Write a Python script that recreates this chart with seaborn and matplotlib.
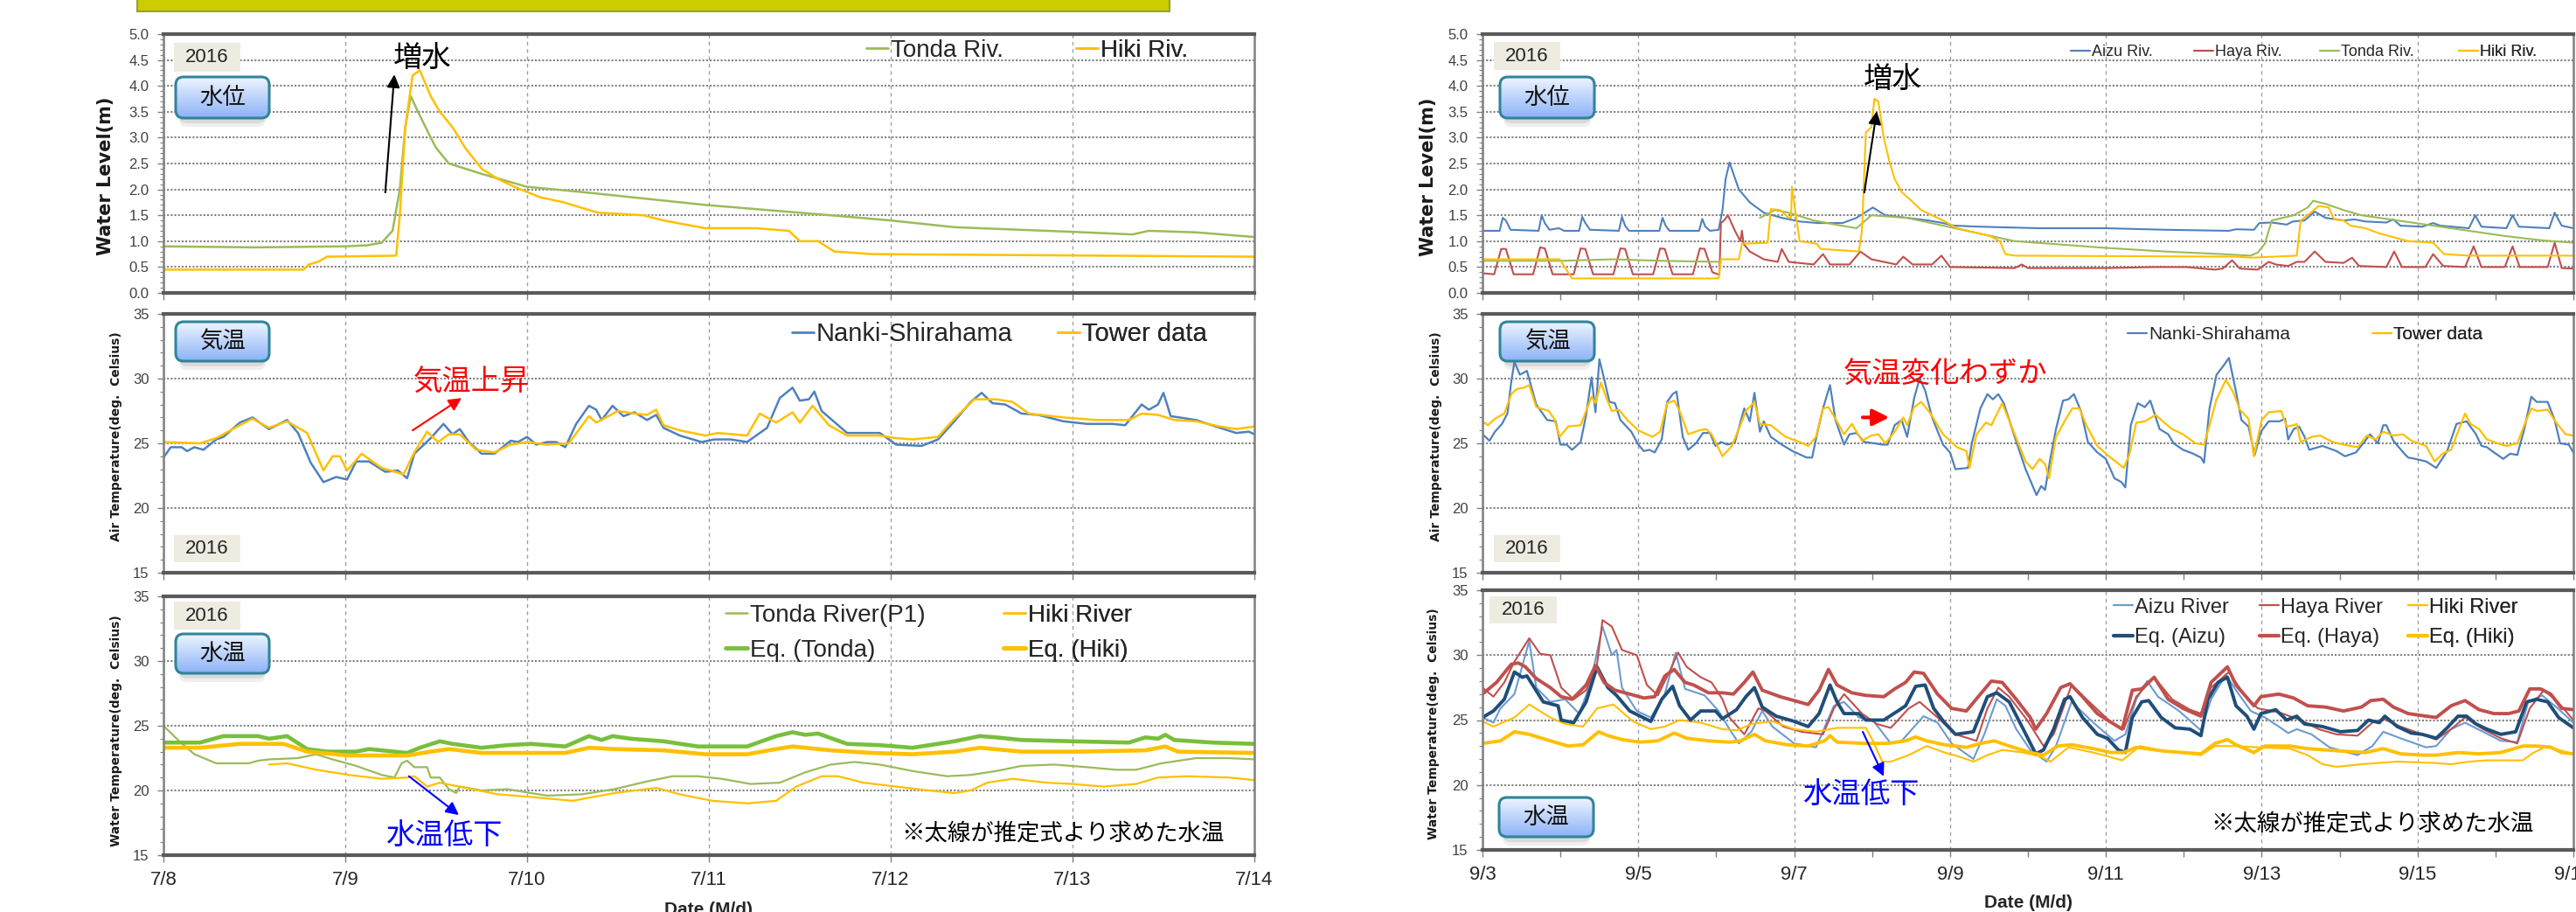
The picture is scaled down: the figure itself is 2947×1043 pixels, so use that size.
import numpy as np
import pandas as pd
import matplotlib
matplotlib.use('Agg')
import matplotlib.pyplot as plt
import seaborn as sns
from matplotlib import font_manager
from matplotlib.lines import Line2D
from matplotlib.patches import FancyBboxPatch, Rectangle
from matplotlib.ticker import MultipleLocator

# =============================================
# Data (day offset from first tick, value)
# =============================================

# --- July flood (left), start 7/8 ---
x_labels_jul = ['7/8', '7/9', '7/10', '7/11', '7/12', '7/13', '7/14']

lv_tonda_jul = [(0, 0.9), (0.5, 0.88), (1.0, 0.9), (1.12, 0.92), (1.2, 0.97), (1.26, 1.2), (1.3, 2.0),
                (1.33, 3.2), (1.36, 3.8), (1.4, 3.5), (1.47, 3.0), (1.5, 2.8), (1.57, 2.5), (1.75, 2.3),
                (2.0, 2.05), (2.3, 1.95), (2.98, 1.7), (3.67, 1.5), (4.0, 1.4), (4.35, 1.27), (5.0, 1.18),
                (5.33, 1.13), (5.42, 1.2), (5.68, 1.17), (6.0, 1.08)]
lv_hiki_jul = [(0, 0.45), (0.77, 0.45), (0.8, 0.55), (0.85, 0.6), (0.9, 0.7), (1.28, 0.72), (1.3, 1.5),
               (1.33, 3.2), (1.37, 4.2), (1.41, 4.3), (1.47, 3.8), (1.52, 3.5), (1.59, 3.2), (1.66, 2.8),
               (1.75, 2.4), (1.84, 2.2), (1.93, 2.05), (2.07, 1.85), (2.2, 1.75), (2.39, 1.55), (2.64, 1.5),
               (2.75, 1.4), (2.98, 1.25), (3.26, 1.25), (3.44, 1.2), (3.5, 1.0), (3.6, 1.0), (3.69, 0.8),
               (3.9, 0.75), (6.0, 0.7)]

at_nanki_jul = [(0, 23.9), (0.04, 24.7), (0.1, 24.7), (0.13, 24.4), (0.17, 24.7), (0.22, 24.5), (0.29, 25.3),
                (0.33, 25.5), (0.42, 26.6), (0.49, 27.0), (0.58, 26.1), (0.68, 26.8), (0.74, 25.8), (0.81, 23.5),
                (0.88, 22.0), (0.95, 22.4), (1.01, 22.2), (1.06, 23.6), (1.13, 23.6), (1.22, 22.8), (1.29, 22.9),
                (1.34, 22.3), (1.38, 24.2), (1.47, 25.4), (1.54, 26.5), (1.59, 25.7), (1.63, 26.1), (1.68, 25.1),
                (1.75, 24.2), (1.82, 24.2), (1.91, 25.2), (1.95, 25.1), (2.0, 25.5), (2.05, 24.9), (2.11, 25.1),
                (2.16, 25.1), (2.21, 24.7), (2.27, 26.5), (2.34, 27.9), (2.38, 27.6), (2.41, 26.8), (2.47, 27.9),
                (2.53, 27.1), (2.59, 27.4), (2.66, 26.8), (2.71, 27.2), (2.75, 26.2), (2.84, 25.6), (2.96, 25.1),
                (3.03, 25.3), (3.12, 25.3), (3.21, 25.1), (3.32, 26.2), (3.39, 28.5), (3.46, 29.3), (3.5, 28.3),
                (3.55, 28.4), (3.58, 29.0), (3.62, 27.5), (3.76, 25.8), (3.94, 25.8), (4.03, 24.9), (4.17, 24.8),
                (4.26, 25.3), (4.35, 26.7), (4.44, 28.2), (4.5, 28.9), (4.56, 28.1), (4.63, 28.0), (4.72, 27.3),
                (4.81, 27.2), (4.95, 26.7), (5.08, 26.5), (5.22, 26.5), (5.29, 26.4), (5.38, 28.0), (5.42, 27.6),
                (5.47, 28.0), (5.5, 28.9), (5.54, 27.1), (5.68, 26.8), (5.81, 26.2), (5.9, 25.8), (5.97, 25.9),
                (6.0, 25.7)]
at_tower_jul = [(0, 25.1), (0.2, 25.0), (0.29, 25.4), (0.42, 26.4), (0.49, 26.9), (0.58, 26.2), (0.68, 26.7),
                (0.79, 25.8), (0.88, 22.9), (0.93, 24.0), (0.97, 24.0), (1.01, 22.9), (1.09, 24.2), (1.2, 23.1),
                (1.32, 22.6), (1.38, 24.3), (1.45, 25.9), (1.51, 25.1), (1.57, 25.7), (1.63, 25.7), (1.72, 24.5),
                (1.82, 24.3), (1.91, 24.9), (2.0, 25.1), (2.11, 24.9), (2.23, 25.0), (2.34, 27.1), (2.38, 26.6),
                (2.5, 27.5), (2.59, 27.3), (2.66, 27.2), (2.71, 27.6), (2.75, 26.4), (2.84, 26.0), (2.98, 25.6),
                (3.05, 25.8), (3.21, 25.6), (3.28, 27.3), (3.37, 26.6), (3.46, 27.4), (3.5, 26.6), (3.57, 27.9),
                (3.66, 26.4), (3.76, 25.6), (3.94, 25.6), (4.03, 25.4), (4.12, 25.3), (4.26, 25.5), (4.35, 26.9),
                (4.46, 28.4), (4.58, 28.4), (4.67, 28.2), (4.76, 27.3), (4.95, 27.0), (5.13, 26.8), (5.31, 26.8),
                (5.38, 27.3), (5.47, 27.2), (5.56, 26.8), (5.68, 26.7), (5.81, 26.3), (5.9, 26.1), (6.0, 26.3)]

wt_tonda_jul = [(0, 25.0), (0.08, 23.9), (0.17, 22.8), (0.29, 22.1), (0.47, 22.1), (0.52, 22.3), (0.58, 22.4),
                (0.74, 22.5), (0.84, 22.8), (0.93, 22.4), (1.06, 21.9), (1.2, 21.2), (1.27, 21.0), (1.31, 22.1),
                (1.34, 22.3), (1.38, 21.8), (1.45, 21.8), (1.47, 21.0), (1.52, 21.0), (1.57, 20.1), (1.61, 19.8),
                (1.63, 20.3), (1.75, 20.0), (1.89, 20.1), (2.02, 19.8), (2.11, 19.6), (2.3, 19.7), (2.48, 20.1),
                (2.66, 20.7), (2.8, 21.1), (2.94, 21.1), (3.07, 20.9), (3.23, 20.5), (3.39, 20.6), (3.53, 21.4),
                (3.67, 22.0), (3.8, 22.2), (3.94, 22.0), (4.12, 21.5), (4.31, 21.1), (4.44, 21.2), (4.58, 21.5),
                (4.72, 21.9), (4.9, 22.0), (5.08, 21.8), (5.24, 21.6), (5.35, 21.6), (5.49, 22.1), (5.68, 22.5),
                (5.86, 22.5), (6.0, 22.4)]
wt_hiki_jul = [(0.58, 22.0), (0.68, 22.1), (0.84, 21.6), (1.02, 21.2), (1.2, 20.9), (1.34, 21.0), (1.38, 21.1),
               (1.45, 20.3), (1.52, 20.6), (1.66, 20.2), (1.84, 19.7), (2.02, 19.5), (2.25, 19.2), (2.48, 19.8),
               (2.71, 20.2), (2.84, 19.7), (3.02, 19.2), (3.21, 19.0), (3.37, 19.2), (3.48, 20.3), (3.62, 21.1),
               (3.71, 21.1), (3.85, 20.6), (4.03, 20.3), (4.21, 20.0), (4.35, 19.8), (4.44, 20.0), (4.53, 20.6),
               (4.67, 20.9), (4.86, 20.6), (5.0, 20.5), (5.17, 20.3), (5.35, 20.5), (5.47, 21.0), (5.63, 21.1),
               (5.86, 21.0), (6.0, 20.8)]
wt_eq_tonda_jul = [(0, 23.7), (0.2, 23.7), (0.33, 24.2), (0.52, 24.2), (0.58, 24.0), (0.68, 24.2), (0.79, 23.2),
                   (0.9, 23.0), (1.06, 23.0), (1.13, 23.2), (1.27, 23.0), (1.34, 22.9), (1.41, 23.3), (1.52, 23.8),
                   (1.59, 23.6), (1.75, 23.3), (1.89, 23.5), (2.02, 23.6), (2.21, 23.4), (2.34, 24.2), (2.41, 23.9),
                   (2.47, 24.2), (2.57, 24.0), (2.75, 23.8), (2.94, 23.4), (3.21, 23.4), (3.37, 24.2), (3.46, 24.5),
                   (3.53, 24.3), (3.6, 24.4), (3.76, 23.6), (3.94, 23.5), (4.12, 23.3), (4.35, 23.8), (4.49, 24.2),
                   (4.58, 24.1), (4.72, 23.9), (5.0, 23.8), (5.31, 23.7), (5.4, 24.1), (5.47, 24.0), (5.51, 24.3),
                   (5.56, 23.9), (5.77, 23.7), (6.0, 23.6)]
wt_eq_hiki_jul = [(0, 23.3), (0.2, 23.3), (0.42, 23.6), (0.66, 23.6), (0.79, 23.0), (1.02, 22.7), (1.25, 22.7),
                  (1.34, 22.7), (1.47, 23.0), (1.57, 23.2), (1.75, 22.9), (2.02, 22.9), (2.21, 22.9), (2.34, 23.3),
                  (2.48, 23.2), (2.75, 23.1), (2.98, 22.8), (3.21, 22.8), (3.37, 23.2), (3.46, 23.4), (3.67, 23.1),
                  (3.9, 22.9), (4.12, 22.8), (4.35, 23.0), (4.49, 23.3), (4.72, 23.0), (5.03, 23.0), (5.4, 23.1),
                  (5.51, 23.4), (5.58, 23.0), (6.0, 22.9)]

# --- September (right), start 9/3 ---
x_labels_sep = ['9/3', '9/5', '9/7', '9/9', '9/11', '9/13', '9/15', '9/17']

lv_aizu_sep = [(0, 1.2), (0.22, 1.2), (0.26, 1.45), (0.3, 1.4), (0.36, 1.22), (0.72, 1.2), (0.76, 1.5),
               (0.8, 1.35), (0.86, 1.22), (0.98, 1.25), (1.05, 1.2), (1.24, 1.2), (1.28, 1.47), (1.32, 1.35),
               (1.38, 1.22), (1.75, 1.2), (1.79, 1.47), (1.83, 1.3), (1.88, 1.2), (2.27, 1.2), (2.31, 1.45),
               (2.35, 1.3), (2.4, 1.2), (2.78, 1.2), (2.82, 1.43), (2.86, 1.28), (2.92, 1.2), (3.03, 1.22),
               (3.08, 1.6), (3.12, 2.2), (3.17, 2.52), (3.29, 2.0), (3.43, 1.75), (3.61, 1.55), (3.84, 1.45),
               (4.07, 1.38), (4.3, 1.35), (4.62, 1.35), (4.8, 1.45), (5.01, 1.65), (5.17, 1.5), (5.45, 1.45),
               (5.72, 1.4), (5.91, 1.35), (6.05, 1.3), (6.37, 1.28), (7.14, 1.25), (8.0, 1.25), (8.76, 1.22),
               (9.58, 1.2), (9.67, 1.23), (9.9, 1.22), (9.97, 1.35), (10.13, 1.36), (10.32, 1.32), (10.4, 1.38),
               (10.55, 1.4), (10.68, 1.57), (10.82, 1.45), (11.05, 1.4), (11.19, 1.42), (11.33, 1.38),
               (11.6, 1.36), (11.69, 1.42), (11.78, 1.3), (12.06, 1.28), (12.2, 1.35), (12.29, 1.3),
               (12.66, 1.25), (12.74, 1.5), (12.82, 1.28), (13.14, 1.25), (13.22, 1.5), (13.3, 1.28),
               (13.69, 1.25), (13.76, 1.55), (13.85, 1.3), (14.0, 1.25)]
lv_haya_sep = [(0, 0.38), (0.15, 0.36), (0.24, 0.85), (0.3, 0.85), (0.4, 0.36), (0.65, 0.36), (0.74, 0.88),
               (0.8, 0.86), (0.9, 0.36), (1.17, 0.36), (1.26, 0.86), (1.32, 0.85), (1.42, 0.36), (1.68, 0.36),
               (1.77, 0.86), (1.83, 0.85), (1.93, 0.36), (2.19, 0.36), (2.28, 0.86), (2.34, 0.85), (2.44, 0.36),
               (2.7, 0.36), (2.79, 0.86), (2.85, 0.85), (2.95, 0.4), (3.04, 0.35), (3.06, 1.35), (3.1, 1.4),
               (3.15, 1.5), (3.24, 1.2), (3.31, 1.0), (3.33, 1.2), (3.35, 0.95), (3.43, 0.8), (3.61, 0.65),
               (3.79, 0.6), (3.84, 0.85), (3.93, 0.6), (4.25, 0.55), (4.37, 0.75), (4.46, 0.55), (4.71, 0.55),
               (4.85, 0.8), (4.99, 0.65), (5.31, 0.55), (5.4, 0.7), (5.52, 0.55), (5.77, 0.55), (5.89, 0.72),
               (6.0, 0.5), (6.83, 0.48), (6.92, 0.55), (7.0, 0.48), (8.0, 0.48), (8.62, 0.5), (9.03, 0.5),
               (9.4, 0.45), (9.5, 0.47), (9.62, 0.63), (9.72, 0.47), (9.95, 0.45), (10.09, 0.6), (10.18, 0.55),
               (10.34, 0.52), (10.45, 0.6), (10.55, 0.6), (10.68, 0.8), (10.82, 0.6), (11.05, 0.58),
               (11.16, 0.68), (11.25, 0.52), (11.6, 0.5), (11.7, 0.8), (11.8, 0.5), (12.1, 0.5), (12.2, 0.75),
               (12.33, 0.52), (12.61, 0.5), (12.72, 0.9), (12.82, 0.5), (13.12, 0.5), (13.22, 0.9), (13.31, 0.5),
               (13.67, 0.5), (13.76, 0.97), (13.85, 0.48), (14.0, 0.47)]
lv_tonda_sep_a = [(0, 0.62), (0.5, 0.62), (1.0, 0.62), (1.68, 0.65), (2.3, 0.62), (3.06, 0.6)]
lv_tonda_sep_b = [(3.56, 1.45), (3.75, 1.6), (3.93, 1.55), (4.25, 1.4), (4.53, 1.32), (4.8, 1.25), (4.99, 1.5),
                  (5.45, 1.45), (5.91, 1.3), (6.37, 1.15), (6.83, 1.0), (7.29, 0.95), (8.0, 0.87), (8.76, 0.8),
                  (9.49, 0.75), (9.86, 0.72), (9.95, 0.78), (10.04, 0.95), (10.13, 1.4), (10.41, 1.5),
                  (10.59, 1.65), (10.66, 1.78), (10.82, 1.72), (11.05, 1.6), (11.28, 1.5), (11.74, 1.4),
                  (12.2, 1.3), (12.66, 1.2), (13.12, 1.1), (13.57, 1.02), (14.0, 0.97)]
lv_hiki_sep = [(0, 0.5), (0.02, 0.65), (0.99, 0.65), (1.15, 0.28), (3.03, 0.28), (3.06, 0.65), (3.29, 0.65),
               (3.33, 0.95), (3.66, 0.97), (3.7, 1.62), (3.82, 1.6), (3.93, 1.45), (3.96, 1.45), (3.97, 2.05),
               (4.07, 1.0), (4.29, 0.95), (4.34, 0.85), (4.83, 0.8), (4.87, 1.2), (4.92, 3.1), (4.99, 3.2),
               (5.03, 3.75), (5.08, 3.7), (5.15, 3.0), (5.22, 2.55), (5.29, 2.2), (5.38, 1.95), (5.49, 1.8),
               (5.63, 1.6), (5.77, 1.5), (5.91, 1.4), (6.09, 1.25), (6.37, 1.15), (6.51, 1.1), (6.64, 1.0),
               (6.71, 0.75), (6.83, 0.72), (9.67, 0.7), (9.86, 0.68), (10.45, 0.72), (10.5, 1.4), (10.59, 1.5),
               (10.73, 1.68), (10.86, 1.65), (10.93, 1.42), (11.05, 1.4), (11.14, 1.3), (11.33, 1.25),
               (11.51, 1.15), (11.88, 1.0), (12.2, 0.97), (12.34, 0.75), (12.66, 0.72), (14.0, 0.72)]

at_nanki_sep = [(0, 25.7), (0.09, 25.2), (0.16, 25.9), (0.25, 26.5), (0.32, 27.3), (0.37, 29.8), (0.41, 31.3),
                (0.48, 30.3), (0.57, 30.6), (0.69, 28.0), (0.83, 26.8), (0.94, 26.7), (1.0, 24.9), (1.08, 24.9),
                (1.15, 24.5), (1.26, 25.1), (1.33, 27.2), (1.4, 30.1), (1.45, 27.4), (1.5, 31.5), (1.56, 30.0),
                (1.63, 28.2), (1.7, 28.1), (1.77, 26.8), (1.91, 25.9), (2.0, 24.9), (2.07, 24.4), (2.14, 24.5),
                (2.21, 24.3), (2.3, 25.3), (2.37, 28.2), (2.44, 28.8), (2.49, 29.0), (2.57, 25.5), (2.64, 24.5),
                (2.74, 25.0), (2.83, 25.8), (2.92, 25.8), (2.99, 24.8), (3.06, 25.1), (3.15, 24.9), (3.24, 25.1),
                (3.36, 27.7), (3.43, 26.7), (3.49, 28.9), (3.56, 25.9), (3.61, 26.7), (3.7, 25.5), (3.84, 24.9),
                (3.98, 24.4), (4.16, 23.9), (4.23, 23.9), (4.3, 25.9), (4.37, 27.7), (4.46, 29.5), (4.53, 26.8),
                (4.64, 24.9), (4.71, 25.7), (4.8, 25.8), (4.9, 25.1), (5.03, 25.0), (5.13, 24.9), (5.2, 24.9),
                (5.29, 26.4), (5.38, 26.8), (5.45, 25.5), (5.54, 28.5), (5.61, 30.0), (5.68, 29.1), (5.77, 27.0),
                (5.91, 24.9), (6.0, 24.3), (6.07, 23.0), (6.23, 23.1), (6.28, 25.0), (6.39, 27.7), (6.48, 28.8),
                (6.55, 28.4), (6.62, 28.8), (6.69, 28.1), (6.83, 25.5), (6.97, 23.0), (7.11, 21.0), (7.17, 21.7),
                (7.22, 21.4), (7.29, 23.9), (7.36, 26.1), (7.45, 28.3), (7.52, 28.4), (7.59, 28.8), (7.68, 27.5),
                (7.77, 25.1), (7.89, 24.3), (8.0, 23.8), (8.11, 22.3), (8.2, 22.0), (8.25, 21.6), (8.32, 26.4),
                (8.41, 28.1), (8.5, 27.8), (8.57, 28.3), (8.69, 26.1), (8.8, 25.7), (8.87, 25.0), (8.99, 24.5),
                (9.12, 24.2), (9.22, 23.9), (9.26, 23.5), (9.33, 27.7), (9.42, 30.3), (9.51, 31.0), (9.58, 31.6),
                (9.67, 29.0), (9.74, 26.8), (9.83, 26.3), (9.91, 24.1), (9.99, 25.9), (10.09, 26.7), (10.23, 26.7),
                (10.3, 26.9), (10.34, 25.3), (10.41, 26.1), (10.48, 26.3), (10.55, 25.5), (10.61, 24.5),
                (10.78, 24.8), (10.96, 24.4), (11.07, 24.0), (11.21, 24.3), (11.33, 25.2), (11.39, 25.7),
                (11.49, 25.0), (11.56, 26.4), (11.6, 26.4), (11.69, 25.2), (11.83, 24.2), (11.88, 23.9),
                (11.97, 23.8), (12.11, 23.6), (12.24, 23.1), (12.38, 24.4), (12.5, 26.5), (12.63, 26.7),
                (12.75, 25.7), (12.82, 24.8), (12.89, 24.7), (12.98, 24.3), (13.1, 23.8), (13.19, 24.2),
                (13.28, 24.1), (13.37, 26.1), (13.46, 28.6), (13.53, 28.2), (13.67, 28.2), (13.76, 26.8),
                (13.83, 25.0), (13.94, 24.9), (14.0, 24.3)]
at_tower_sep = [(0, 26.7), (0.07, 26.4), (0.16, 26.9), (0.28, 27.3), (0.37, 28.8), (0.44, 29.2), (0.53, 29.3),
                (0.6, 29.5), (0.69, 27.8), (0.85, 27.5), (0.92, 26.9), (0.99, 25.5), (1.1, 26.3), (1.26, 26.4),
                (1.33, 27.5), (1.4, 28.6), (1.45, 28.1), (1.52, 29.7), (1.59, 28.5), (1.66, 27.5), (1.75, 27.6),
                (1.86, 26.8), (2.0, 26.0), (2.18, 25.5), (2.28, 25.9), (2.37, 28.1), (2.46, 28.3), (2.53, 27.5),
                (2.64, 25.7), (2.78, 26.0), (2.87, 26.1), (2.94, 25.7), (3.08, 24.0), (3.2, 24.8), (3.31, 26.4),
                (3.38, 27.5), (3.49, 28.2), (3.56, 26.5), (3.7, 26.4), (3.89, 25.5), (4.07, 25.1), (4.18, 24.8),
                (4.28, 25.5), (4.37, 27.7), (4.44, 27.8), (4.53, 26.9), (4.64, 25.7), (4.74, 26.5), (4.87, 25.2),
                (4.99, 25.6), (5.08, 25.7), (5.17, 25.0), (5.29, 25.9), (5.4, 27.0), (5.45, 26.4), (5.54, 27.8),
                (5.63, 28.2), (5.75, 27.3), (5.91, 25.7), (6.09, 24.7), (6.21, 24.4), (6.25, 23.1), (6.34, 25.7),
                (6.46, 26.6), (6.53, 26.4), (6.67, 28.1), (6.83, 25.7), (6.97, 23.6), (7.06, 23.0), (7.15, 23.8),
                (7.22, 23.4), (7.27, 22.3), (7.36, 25.5), (7.48, 26.8), (7.57, 27.7), (7.66, 27.7), (7.75, 26.4),
                (7.89, 24.8), (8.02, 24.1), (8.23, 23.1), (8.3, 24.1), (8.39, 26.6), (8.5, 26.7), (8.64, 27.2),
                (8.73, 26.7), (8.85, 26.1), (8.99, 25.7), (9.15, 25.0), (9.26, 24.9), (9.33, 26.4), (9.42, 28.4),
                (9.54, 29.9), (9.63, 29.0), (9.72, 27.6), (9.83, 26.9), (9.9, 24.0), (10.0, 26.8), (10.09, 27.4),
                (10.25, 27.5), (10.32, 26.3), (10.41, 26.4), (10.45, 26.5), (10.5, 25.1), (10.64, 25.5),
                (10.75, 25.6), (10.91, 25.1), (11.05, 24.9), (11.23, 24.7), (11.35, 25.6), (11.46, 25.3),
                (11.56, 25.9), (11.69, 25.6), (11.81, 25.7), (11.92, 25.2), (12.11, 24.8), (12.22, 23.6),
                (12.32, 24.2), (12.43, 24.5), (12.52, 25.9), (12.61, 27.3), (12.68, 26.5), (12.79, 26.1),
                (12.89, 25.3), (13.03, 25.0), (13.14, 24.8), (13.28, 25.0), (13.37, 26.4), (13.46, 27.7),
                (13.53, 27.5), (13.67, 27.6), (13.78, 26.6), (13.9, 25.7), (14.0, 25.6)]

wt_aizu_sep = [(0, 25.2), (0.14, 24.8), (0.23, 25.9), (0.41, 27.0), (0.6, 31.1), (0.69, 27.5), (0.87, 26.4),
               (1.06, 26.6), (1.24, 25.5), (1.38, 27.7), (1.54, 32.2), (1.66, 30.0), (1.72, 30.4), (1.79, 27.5),
               (1.98, 25.7), (2.16, 25.2), (2.34, 27.0), (2.48, 30.2), (2.6, 27.4), (2.85, 26.9), (3.03, 25.7),
               (3.17, 24.3), (3.29, 23.2), (3.45, 24.1), (3.59, 25.7), (3.72, 24.5), (4.0, 23.2), (4.28, 22.9),
               (4.51, 26.1), (4.64, 26.4), (4.83, 25.2), (5.01, 25.0), (5.24, 23.2), (5.38, 23.4), (5.66, 25.3),
               (5.84, 24.8), (6.02, 23.2), (6.3, 22.0), (6.44, 23.9), (6.6, 26.6), (6.71, 26.1), (6.85, 24.3),
               (7.03, 22.7), (7.24, 21.8), (7.36, 23.0), (7.56, 26.4), (7.84, 24.8), (8.11, 23.4), (8.25, 23.9),
               (8.39, 26.6), (8.53, 28.0), (8.67, 26.8), (8.94, 25.7), (9.22, 24.2), (9.35, 26.6), (9.54, 28.5),
               (9.67, 27.3), (9.86, 25.7), (10.04, 25.2), (10.22, 24.5), (10.34, 24.0), (10.45, 24.3),
               (10.64, 23.9), (10.87, 22.9), (11.23, 22.3), (11.42, 23.0), (11.56, 24.1), (11.78, 23.6),
               (12.11, 22.9), (12.24, 23.0), (12.43, 24.3), (12.61, 24.8), (12.84, 24.1), (13.07, 23.4),
               (13.28, 23.3), (13.42, 26.4), (13.6, 26.9), (13.8, 25.9), (14.0, 24.8)]
wt_eq_aizu_sep = [(0, 25.2), (0.14, 25.7), (0.28, 26.6), (0.41, 28.7), (0.51, 28.3), (0.57, 28.4), (0.78, 26.4),
                  (0.97, 26.1), (1.01, 25.0), (1.17, 24.8), (1.33, 26.4), (1.47, 29.1), (1.61, 27.5), (1.72, 26.9),
                  (1.89, 25.7), (2.16, 24.9), (2.3, 26.6), (2.44, 27.6), (2.53, 26.1), (2.67, 25.0), (2.8, 25.7),
                  (2.99, 25.7), (3.08, 25.1), (3.26, 25.8), (3.38, 26.8), (3.49, 27.5), (3.59, 26.0), (3.77, 25.3),
                  (4.0, 24.9), (4.18, 24.5), (4.32, 25.5), (4.46, 27.7), (4.55, 26.4), (4.64, 25.5), (4.83, 25.5),
                  (4.92, 25.0), (5.15, 25.0), (5.33, 25.7), (5.43, 26.1), (5.56, 27.6), (5.68, 27.7), (5.79, 25.9),
                  (5.93, 24.8), (6.07, 23.9), (6.3, 24.1), (6.48, 26.8), (6.6, 27.1), (6.76, 26.4), (6.94, 24.3),
                  (7.1, 22.4), (7.2, 22.7), (7.33, 24.3), (7.47, 26.6), (7.54, 26.8), (7.7, 25.2), (7.89, 23.9),
                  (8.02, 23.6), (8.16, 22.7), (8.25, 22.5), (8.34, 25.2), (8.46, 26.4), (8.55, 26.5), (8.71, 25.2),
                  (8.89, 24.4), (9.08, 24.3), (9.22, 23.8), (9.31, 26.6), (9.44, 27.9), (9.56, 28.3), (9.67, 26.1),
                  (9.81, 25.3), (9.9, 24.3), (9.99, 25.5), (10.18, 25.8), (10.32, 25.0), (10.45, 25.3),
                  (10.55, 24.7), (10.78, 24.5), (11.01, 24.1), (11.23, 24.2), (11.37, 25.0), (11.51, 24.8),
                  (11.58, 25.3), (11.74, 24.5), (11.92, 24.0), (12.06, 23.9), (12.24, 23.6), (12.38, 24.4),
                  (12.52, 25.3), (12.63, 25.3), (12.75, 24.7), (12.89, 24.3), (13.07, 23.9), (13.26, 24.1),
                  (13.4, 26.4), (13.53, 26.6), (13.67, 26.4), (13.81, 25.2), (14.0, 24.4)]
wt_haya_sep = [(0, 27.5), (0.14, 26.8), (0.28, 27.9), (0.41, 29.5), (0.6, 31.3), (0.74, 30.1), (0.87, 30.0),
               (1.01, 27.5), (1.17, 26.6), (1.33, 27.3), (1.47, 29.3), (1.54, 32.7), (1.66, 32.2), (1.79, 30.4),
               (1.98, 30.0), (2.11, 27.7), (2.25, 26.9), (2.39, 28.6), (2.51, 30.2), (2.62, 29.1), (2.8, 28.3),
               (2.94, 27.9), (3.08, 26.6), (3.17, 25.2), (3.36, 23.9), (3.54, 25.9), (3.63, 25.7), (3.86, 24.5),
               (4.09, 24.1), (4.37, 23.9), (4.51, 25.9), (4.64, 27.0), (4.87, 25.5), (5.06, 24.7), (5.24, 24.4),
               (5.47, 25.9), (5.61, 26.4), (5.84, 25.2), (6.07, 23.9), (6.34, 23.4), (6.48, 25.9), (6.62, 27.5),
               (6.76, 26.8), (6.99, 25.0), (7.2, 23.0), (7.33, 23.9), (7.56, 27.7), (7.84, 26.1), (8.07, 24.8),
               (8.23, 24.3), (8.39, 26.8), (8.62, 28.3), (8.85, 26.6), (9.08, 25.8), (9.22, 25.5), (9.35, 27.5),
               (9.58, 28.7), (9.77, 27.0), (9.95, 25.9), (10.22, 25.6), (10.5, 25.0), (10.73, 24.3),
               (10.96, 23.9), (11.23, 23.8), (11.42, 24.8), (11.56, 25.1), (11.78, 24.5), (12.06, 23.9),
               (12.24, 23.5), (12.43, 24.3), (12.61, 25.2), (12.84, 24.3), (13.07, 23.6), (13.28, 23.2),
               (13.44, 25.9), (13.62, 27.3), (13.8, 26.4), (14.0, 25.0)]
wt_eq_haya_sep = [(0, 27.0), (0.18, 27.9), (0.37, 29.3), (0.46, 29.4), (0.55, 29.1), (0.69, 28.2), (0.87, 27.5),
                  (1.01, 26.8), (1.15, 26.6), (1.33, 27.7), (1.45, 29.2), (1.56, 27.9), (1.7, 27.3), (1.89, 27.0),
                  (2.07, 26.7), (2.21, 26.8), (2.34, 28.4), (2.46, 28.9), (2.6, 27.9), (2.71, 27.7), (2.9, 27.1),
                  (3.08, 27.1), (3.22, 27.0), (3.36, 27.9), (3.47, 28.7), (3.59, 27.3), (3.82, 26.8), (4.0, 26.5),
                  (4.18, 26.2), (4.32, 27.3), (4.44, 28.9), (4.55, 27.7), (4.74, 27.1), (4.92, 26.9), (5.15, 26.8),
                  (5.29, 27.4), (5.43, 27.9), (5.54, 28.7), (5.66, 28.6), (5.84, 27.0), (6.02, 25.9), (6.21, 25.7),
                  (6.39, 27.0), (6.53, 28.0), (6.67, 27.9), (6.85, 26.6), (7.03, 25.2), (7.1, 24.3), (7.24, 25.5),
                  (7.42, 27.5), (7.54, 27.8), (7.7, 26.8), (7.89, 25.5), (8.02, 25.0), (8.21, 24.3), (8.34, 27.3),
                  (8.46, 27.4), (8.62, 28.3), (8.8, 26.6), (8.99, 25.9), (9.22, 25.3), (9.35, 27.9), (9.49, 28.7),
                  (9.56, 29.1), (9.67, 27.7), (9.9, 26.1), (9.99, 26.8), (10.22, 27.0), (10.41, 26.7),
                  (10.59, 26.1), (10.82, 26.0), (11.05, 25.7), (11.28, 26.0), (11.4, 26.5), (11.56, 26.6),
                  (11.69, 26.0), (11.88, 25.5), (12.11, 25.3), (12.24, 25.2), (12.43, 26.1), (12.61, 26.5),
                  (12.79, 25.8), (12.98, 25.5), (13.17, 25.5), (13.3, 25.7), (13.44, 27.4), (13.58, 27.4),
                  (13.71, 27.0), (13.85, 25.9), (14.0, 25.8)]
wt_hiki_sep = [(0, 24.9), (0.14, 24.5), (0.41, 25.2), (0.6, 26.2), (0.87, 25.2), (1.06, 24.7), (1.29, 24.5),
               (1.47, 25.9), (1.68, 26.2), (1.93, 24.9), (2.16, 24.3), (2.34, 24.5), (2.53, 25.0), (2.8, 24.8),
               (3.08, 24.3), (3.26, 24.2), (3.45, 24.7), (3.72, 24.9), (4.0, 24.3), (4.28, 24.1), (4.46, 24.3),
               (4.55, 24.4), (4.92, 24.4), (5.01, 23.4), (5.13, 21.8), (5.24, 21.8), (5.47, 22.3), (5.7, 23.0),
               (5.93, 22.5), (6.11, 22.2), (6.3, 21.8), (6.48, 22.3), (6.67, 22.7), (6.94, 22.5), (7.16, 22.2),
               (7.29, 21.8), (7.52, 22.9), (7.84, 22.5), (8.21, 21.9), (8.44, 23.0), (8.76, 22.6), (9.22, 22.3),
               (9.4, 23.0), (9.67, 23.0), (9.95, 22.9), (10.36, 22.8), (10.59, 22.3), (10.78, 21.6),
               (10.96, 21.4), (11.28, 21.6), (11.74, 21.8), (12.2, 21.7), (12.43, 21.6), (12.66, 21.8),
               (12.89, 21.9), (13.12, 21.9), (13.35, 21.9), (13.49, 22.5), (13.67, 23.0), (13.81, 22.7),
               (14.0, 22.4)]
wt_eq_hiki_sep = [(0, 23.2), (0.23, 23.4), (0.41, 24.1), (0.6, 23.9), (0.87, 23.4), (1.1, 23.0), (1.29, 23.1),
                  (1.43, 23.8), (1.49, 24.1), (1.61, 23.8), (1.79, 23.5), (2.02, 23.3), (2.25, 23.4), (2.46, 24.0),
                  (2.62, 23.6), (2.9, 23.4), (3.17, 23.3), (3.31, 23.4), (3.49, 23.9), (3.63, 23.4), (3.91, 23.1),
                  (4.18, 23.0), (4.39, 23.4), (4.46, 23.8), (4.55, 23.3), (4.92, 23.2), (5.2, 23.2), (5.43, 23.4),
                  (5.56, 23.7), (5.7, 23.4), (5.93, 23.1), (6.21, 22.9), (6.39, 23.2), (6.57, 23.4), (6.76, 23.0),
                  (7.03, 22.5), (7.2, 22.3), (7.38, 23.0), (7.56, 23.1), (7.84, 22.8), (8.07, 22.5), (8.23, 22.5),
                  (8.39, 22.9), (8.76, 22.6), (9.22, 22.4), (9.4, 23.2), (9.56, 23.5), (9.67, 23.1), (9.9, 22.5),
                  (10.04, 23.0), (10.36, 23.0), (10.59, 22.8), (11.05, 22.6), (11.33, 22.5), (11.56, 22.8),
                  (11.78, 22.4), (12.06, 22.3), (12.24, 22.3), (12.52, 22.5), (12.79, 22.4), (13.07, 22.5),
                  (13.35, 23.0), (13.53, 23.0), (13.71, 22.9), (13.85, 22.5), (14.0, 22.4)]

# =============================================
# Style
# =============================================
W, H = 2947, 1043
sns.set_theme(style='white')
names = {f.name for f in font_manager.fontManager.ttflist}
NARROW = 'Liberation Sans Narrow' if 'Liberation Sans Narrow' in names else 'Liberation Sans'
JP = 'Noto Sans CJK JP'
plt.rcParams['font.family'] = [NARROW, JP, 'DejaVu Sans']

BLUE, RED, GREEN, YEL = '#4f81bd', '#c0504d', '#9bbb59', '#ffc000'
NAVY, GREEN_EQ, BLUE_LT = '#1f4e79', '#78bf3c', '#6b9bd1'

fig = plt.figure(figsize=(W / 100, H / 100), dpi=100, facecolor='white')


def fx(px):
    return px / W


def fy(py):
    return 1 - py / H


def make_ax(x0, y0, x1, y1):
    return fig.add_axes([fx(x0), fy(y1), (x1 - x0) / W, (y1 - y0) / H])


def series(ax, pts, color, lw):
    df = pd.DataFrame(pts, columns=['day', 'val'])
    sns.lineplot(data=df, x='day', y='val', ax=ax, color=color, lw=lw,
                 estimator=None, sort=False, legend=False)


def setup(ax, days, step, ylo, yhi, ystep, yminor, fmt, xlabels=None):
    ax.set_xlabel('')
    ax.set_ylabel('')
    ax.set_xlim(0, days)
    ax.set_ylim(ylo, yhi)
    ax.set_xticks(range(0, days + 1, step))
    ax.set_xticks(range(0, days + 1), minor=True)
    yt = np.arange(ylo, yhi + ystep / 2, ystep)
    ax.set_yticks(yt)
    ax.set_yticklabels([fmt.format(v) for v in yt], fontsize=12, color='#404040')
    ax.yaxis.set_minor_locator(MultipleLocator(yminor))
    ax.grid(True, axis='y', which='major', color='#808080', ls=(0, (1, 1)), lw=1.5)
    ax.grid(True, axis='x', which='major', color='#a0a0a0', ls=(0, (3, 3)), lw=1.0)
    for s in ['left', 'right']:
        ax.spines[s].set(color='#808080', lw=1.8)
    for s in ['top', 'bottom']:
        ax.spines[s].set(color='#5a5a5a', lw=3)
    ax.tick_params(axis='both', which='both', bottom=True, left=True, direction='out',
                   color='#808080', pad=7)
    ax.tick_params(axis='x', which='both', length=6, width=1)
    ax.tick_params(axis='y', which='major', length=5, width=1)
    ax.tick_params(axis='y', which='minor', length=3, width=0.8)
    if xlabels:
        ax.set_xticklabels(xlabels, fontsize=16, color='#262626')
    else:
        ax.tick_params(labelbottom=False)


def legend_col(ax, entries, px, py, fs, hpx, spacing=0.45):
    handles = [Line2D([], [], color=c, lw=lw) for _, c, lw in entries]
    labels = [e[0] for e in entries]
    em = fs * 100 / 72
    leg = ax.legend(handles, labels, loc='center left', bbox_to_anchor=(fx(px), fy(py)),
                    bbox_transform=fig.transFigure, frameon=False, fontsize=fs,
                    handlelength=hpx / em, handletextpad=0.1, borderpad=0, borderaxespad=0,
                    labelspacing=spacing, labelcolor='#262626')
    ax.add_artist(leg)


def tag(x0, y0, x1, y1, text):
    w, h = x1 - x0, y1 - y0
    for off, a in [(10, 0.12), (6, 0.18)]:
        sh = FancyBboxPatch(((x0 + 4) / 100, (H - y1 - off) / 100), (w - 8) / 100, h / 100,
                            boxstyle='round,pad=0,rounding_size=0.09', fc='#7f7f7f', ec='none',
                            alpha=a, transform=fig.dpi_scale_trans, zorder=5)
        fig.add_artist(sh)
    box = FancyBboxPatch((x0 / 100, (H - y1) / 100), w / 100, h / 100,
                         boxstyle='round,pad=0,rounding_size=0.09', fc='none', ec='#31849b',
                         lw=2.2, transform=fig.dpi_scale_trans, zorder=7)
    fig.add_artist(box)
    shade = np.linspace(0, 1, h)[:, None, None]
    top, bot = np.array([0.93, 0.96, 1.0]), np.array([0.55, 0.70, 0.97])
    img = np.repeat(top + (bot - top) * shade, w, axis=1)
    fi = fig.figimage(img, xo=x0, yo=H - y1, origin='upper', zorder=6)
    fi.set_clip_path(box)
    fig.text(fx((x0 + x1) / 2), fy((y0 + y1) / 2), text, fontsize=19, family=[JP],
             ha='center', va='center', color='#111111', zorder=8)


def year_box(x0, y0, x1, y1):
    fig.add_artist(Rectangle((fx(x0), fy(y1)), (x1 - x0) / W, (y1 - y0) / H,
                             transform=fig.transFigure, fc='#eeece1', ec='none', zorder=5))
    fig.text(fx((x0 + x1) / 2), fy((y0 + y1) / 2), '2016', fontsize=16, ha='center',
             va='center', color='#262626', zorder=8)


def jtext(px, py, s, fs, color='black'):
    fig.text(fx(px), fy(py), s, fontsize=fs, color=color, family=[JP],
             ha='center', va='center', zorder=8)


def ylab(px, py, s, fs):
    fig.text(fx(px), fy(py), s, rotation=90, fontsize=fs, fontweight='bold',
             family='DejaVu Sans', ha='center', va='center', color='#1a1a1a')


def arrow(ax, tail, head, color, lw=1.5, ms=22):
    ax.annotate('', xy=head, xytext=tail,
                arrowprops=dict(arrowstyle='-|>', color=color, lw=lw, mutation_scale=ms,
                                shrinkA=0, shrinkB=0))


# =============================================
# Left: July
# =============================================
ax1 = make_ax(187, 39, 1435, 335)
series(ax1, lv_tonda_jul, GREEN, 1.8)
series(ax1, lv_hiki_jul, YEL, 1.8)
setup(ax1, 6, 1, 0, 5, 0.5, 0.1, '{:.1f}')
legend_col(ax1, [('Tonda Riv.', GREEN, 2)], 991, 58, 20, 25)
legend_col(ax1, [('Hiki Riv.', YEL, 2)], 1231, 58, 20, 25)
arrow(ax1, (1.22, 1.94), (1.27, 4.22), 'black')

ax2 = make_ax(187, 359, 1435, 655)
series(ax2, at_nanki_jul, BLUE, 1.8)
series(ax2, at_tower_jul, YEL, 1.8)
setup(ax2, 6, 1, 15, 35, 5, 1, '{:.0f}')
legend_col(ax2, [('Nanki-Shirahama', BLUE, 2)], 906, 382, 21, 25)
legend_col(ax2, [('Tower data', YEL, 2)], 1210, 382, 21, 25)
arrow(ax2, (1.37, 26.0), (1.64, 28.5), '#ff0000')

ax3 = make_ax(187, 682, 1435, 978)
series(ax3, wt_tonda_jul, GREEN, 1.6)
series(ax3, wt_hiki_jul, YEL, 1.6)
series(ax3, wt_eq_tonda_jul, GREEN_EQ, 3.3)
series(ax3, wt_eq_hiki_jul, YEL, 3.3)
setup(ax3, 6, 1, 15, 35, 5, 1, '{:.0f}', x_labels_jul)
legend_col(ax3, [('Tonda River(P1)', GREEN, 1.8), ('Eq. (Tonda)', GREEN_EQ, 3.5)], 830, 724, 20, 25, 0.5)
legend_col(ax3, [('Hiki River', YEL, 1.8), ('Eq. (Hiki)', YEL, 3.5)], 1148, 724, 20, 25, 0.5)
arrow(ax3, (1.35, 21.1), (1.625, 18.1), '#0000ff')

# =============================================
# Right: September
# =============================================
ax4 = make_ax(1696, 39, 2944, 335)
series(ax4, lv_aizu_sep, BLUE, 1.5)
series(ax4, lv_haya_sep, RED, 1.5)
series(ax4, lv_tonda_sep_a, GREEN, 1.5)
series(ax4, lv_tonda_sep_b, GREEN, 1.5)
series(ax4, lv_hiki_sep, YEL, 1.5)
setup(ax4, 14, 2, 0, 5, 0.5, 0.1, '{:.1f}')
for lab, col, px in [('Aizu Riv.', BLUE, 2369), ('Haya Riv.', RED, 2510),
                     ('Tonda Riv.', GREEN, 2654), ('Hiki Riv.', YEL, 2813)]:
    legend_col(ax4, [(lab, col, 1.6)], px, 60, 13, 22)
arrow(ax4, (4.9, 1.94), (5.06, 3.51), 'black')

ax5 = make_ax(1696, 359, 2944, 655)
series(ax5, at_nanki_sep, BLUE, 1.6)
series(ax5, at_tower_sep, YEL, 1.6)
setup(ax5, 14, 2, 15, 35, 5, 1, '{:.0f}')
legend_col(ax5, [('Nanki-Shirahama', BLUE, 1.6)], 2434, 383, 15, 22)
legend_col(ax5, [('Tower data', YEL, 1.6)], 2714, 383, 15, 22)
arrow(ax5, (4.88, 27.0), (5.22, 27.0), '#ff0000', lw=3, ms=28)

ax6 = make_ax(1696, 675, 2944, 972)
series(ax6, wt_aizu_sep, BLUE_LT, 1.5)
series(ax6, wt_haya_sep, RED, 1.5)
series(ax6, wt_hiki_sep, YEL, 1.5)
series(ax6, wt_eq_aizu_sep, NAVY, 2.8)
series(ax6, wt_eq_haya_sep, RED, 2.8)
series(ax6, wt_eq_hiki_sep, YEL, 2.8)
setup(ax6, 14, 2, 15, 35, 5, 1, '{:.0f}', x_labels_sep)
legend_col(ax6, [('Aizu River', BLUE_LT, 1.6), ('Eq. (Aizu)', NAVY, 3)], 2418, 712, 17, 22, 0.55)
legend_col(ax6, [('Haya River', RED, 1.6), ('Eq. (Haya)', RED, 3)], 2585, 712, 17, 22, 0.55)
legend_col(ax6, [('Hiki River', YEL, 1.6), ('Eq. (Hiki)', YEL, 3)], 2755, 712, 17, 22, 0.55)
arrow(ax6, (4.88, 24.1), (5.15, 20.66), '#0000ff')

# =============================================
# Labels, tags and notes
# =============================================
fig.add_artist(Rectangle((fx(157), fy(13)), (1338 - 157) / W, 16 / H, transform=fig.transFigure,
                         fc='#cccc00', ec='#8fa33a', lw=1.5, zorder=5))

ylab(121, 201, 'Water Level(m)', 15)
ylab(133, 499, 'Air Temperature(deg.  Celsius)', 10)
ylab(133, 836, 'Water Temperature(deg.  Celsius)', 10)
ylab(1634, 202, 'Water Level(m)', 15)
ylab(1643, 499, 'Air Temperature(deg.  Celsius)', 10)
ylab(1640, 828, 'Water Temperature(deg.  Celsius)', 10)

fig.text(fx(811), fy(1040), 'Date (M/d)', fontsize=15, fontweight='bold', ha='center', va='center')
fig.text(fx(2320), fy(1033), 'Date (M/d)', fontsize=15, fontweight='bold', ha='center', va='center')

for box in [(199, 49, 275, 82), (199, 612, 275, 643), (199, 688, 275, 720),
            (1709, 48, 1785, 80), (1709, 612, 1785, 643), (1704, 682, 1781, 713)]:
    year_box(*box)

tag(201, 88, 308, 135, '水位')
tag(201, 368, 308, 413, '気温')
tag(201, 725, 308, 770, '水温')
tag(1716, 88, 1824, 135, '水位')
tag(1716, 368, 1824, 413, '気温')
tag(1715, 912, 1823, 957, '水温')

jtext(483, 67, '増水', 24)
jtext(2165, 91, '増水', 24)
jtext(540, 436, '気温上昇', 24, '#ff0000')
jtext(2226, 427, '気温変化わずか', 24, '#ff0000')
jtext(508, 956, '水温低下', 24, '#0000ff')
jtext(2129, 909, '水温低下', 24, '#0000ff')
jtext(1216, 953, '※太線が推定式より求めた水温', 19)
jtext(2714, 942, '※太線が推定式より求めた水温', 19)

fig.savefig('out.png', dpi=100, facecolor='white')
